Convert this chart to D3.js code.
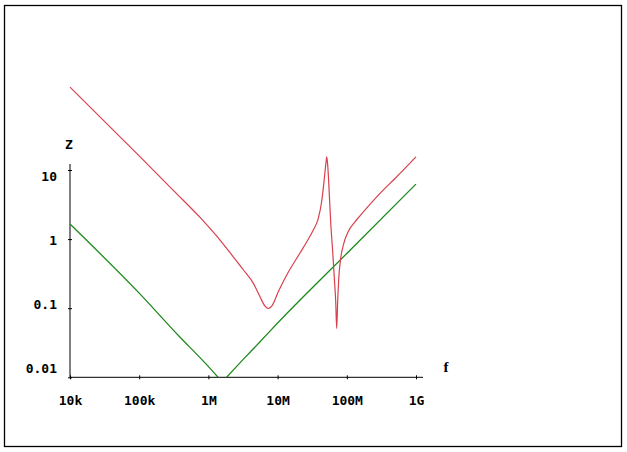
<!DOCTYPE html>
<html>
<head>
<meta charset="utf-8">
<script src="https://cdn.jsdelivr.net/npm/d3@7"></script>
<style>
  body { margin: 0; background: #fff; }
  svg text { font-family: "DejaVu Sans Mono", monospace; font-weight: bold; font-size: 13px; }
</style>
</head>
<body>
<div id="chart"></div>
<script>
//DATA
var xTicks = [1e4, 1e5, 1e6, 1e7, 1e8, 1e9];
var xTickLabels = ["10k", "100k", "1M", "10M", "100M", "1G"];
var yTicks = [0.01, 0.1, 1, 10];
var yTickLabels = ["0.01", "0.1", "1", "10"];

// red trace: log10(f) and |Z|
var redLogF = [4.0, 5.0, 5.5, 5.879, 6.168, 6.36, 6.505, 6.65, 6.746, 6.818, 6.866, 6.915, 7.01, 7.13,
  7.324, 7.42, 7.516, 7.588, 7.637, 7.67, 7.70, 7.71, 7.724, 7.743, 7.767, 7.796, 7.82, 7.84, 7.854,
  7.868, 7.887, 7.912, 7.95, 8.02, 8.118, 8.19, 8.48, 8.7, 9.0];
var redZ = [158, 16, 5.0, 2.06, 0.97, 0.555, 0.36, 0.229, 0.146, 0.107, 0.099, 0.107, 0.173, 0.30,
  0.63, 0.91, 1.35, 2.0, 3.5, 6.7, 13, 15.5, 11.8, 5.4, 1.78, 0.66, 0.27, 0.124, 0.051,
  0.124, 0.30, 0.53, 0.82, 1.28, 1.78, 2.17, 4.6, 7.6, 15.5];

// green trace
var greenLogF = [4.0, 5.0, 5.59, 5.9, 6.139, 6.2, 6.264, 6.5, 6.746, 7.0, 8.0, 9.0];
var greenZ = [1.65, 0.165, 0.038, 0.0183, 0.01, 0.0085, 0.01, 0.018, 0.0327, 0.061, 0.62, 6.25];

var width = 627;
var height = 452;

var svg = d3.select("#chart").append("svg")
  .attr("width", width)
  .attr("height", height);

//frame
svg.append("rect")
  .attr("x", 4.5).attr("y", 5.5)
  .attr("width", 617).attr("height", 441)
  .attr("fill", "#fff")
  .attr("stroke", "#000")
  .attr("stroke-width", 1.3);

var x = d3.scaleLog().domain([1e4, 1e9]).range([70, 416]);
var y = d3.scaleLog().domain([0.01, 10]).range([377.3, 170]);
// the y labels sit a bit off their ticks in the original
var yLabel = d3.scaleLog().domain([0.01, 10]).range([373, 181]);

var x0 = x(1e4), y0 = y(0.01);

//---AXES
var xAxis = d3.axisBottom(x).tickValues(xTicks).tickSize(4)
  .tickFormat(function(d, i){ return xTickLabels[i]; });
var gx = svg.append("g").attr("transform", "translate(0," + y0 + ")").call(xAxis);
gx.select(".domain").remove();
gx.selectAll(".tick line").attr("y1", -2).attr("y2", 2).attr("stroke", "#000");
gx.selectAll(".tick text").attr("y", 28).attr("dy", 0)
  .attr("fill", "#000").style("font-size", "13px")
  .style("font-family", "'DejaVu Sans Mono', monospace").style("font-weight", "bold");

var yAxis = d3.axisLeft(y).tickValues(yTicks).tickSize(4).tickFormat("");
var gy = svg.append("g").attr("transform", "translate(" + x0 + ",0)").call(yAxis);
gy.select(".domain").remove();
gy.selectAll(".tick line").attr("x1", -2).attr("x2", 2).attr("stroke", "#000");

svg.append("g").selectAll("text")
  .data(yTicks)
  .enter().append("text")
  .attr("x", x0 - 13)
  .attr("y", function(d){ return yLabel(d); })
  .attr("text-anchor", "end")
  .text(function(d, i){ return yTickLabels[i]; });

//axis lines
svg.append("line")
  .attr("x1", x0).attr("x2", x(1e9) + 7)
  .attr("y1", y0).attr("y2", y0)
  .attr("stroke", "#000");
svg.append("line")
  .attr("x1", x0).attr("x2", x0)
  .attr("y1", y0).attr("y2", y(10) - 6)
  .attr("stroke", "#000");

//axis names
svg.append("text").attr("x", x0 - 1).attr("y", y(10) - 21)
  .attr("text-anchor", "middle").text("Z");
svg.append("text").attr("x", x(1e9) + 30).attr("y", y0 - 5)
  .attr("text-anchor", "middle")
  .style("font-family", "'Liberation Serif', serif")
  .style("font-size", "15px")
  .text("f");

//---TRACES
svg.append("clipPath").attr("id", "plotclip")
  .append("rect").attr("x", 0).attr("y", 0)
  .attr("width", width).attr("height", y0);

var line = d3.line()
  .x(function(d){ return x(Math.pow(10, d[0])); })
  .y(function(d){ return y(d[1]); })
  .curve(d3.curveMonotoneX);

var traces = svg.append("g").attr("clip-path", "url(#plotclip)");

traces.append("path")
  .datum(d3.zip(greenLogF, greenZ))
  .attr("d", line)
  .attr("fill", "none")
  .attr("stroke", "#1e8a1e")
  .attr("stroke-width", 1.3);

traces.append("path")
  .datum(d3.zip(redLogF, redZ))
  .attr("d", line)
  .attr("fill", "none")
  .attr("stroke", "#d8404c")
  .attr("stroke-width", 1.2);
</script>
</body>
</html>
